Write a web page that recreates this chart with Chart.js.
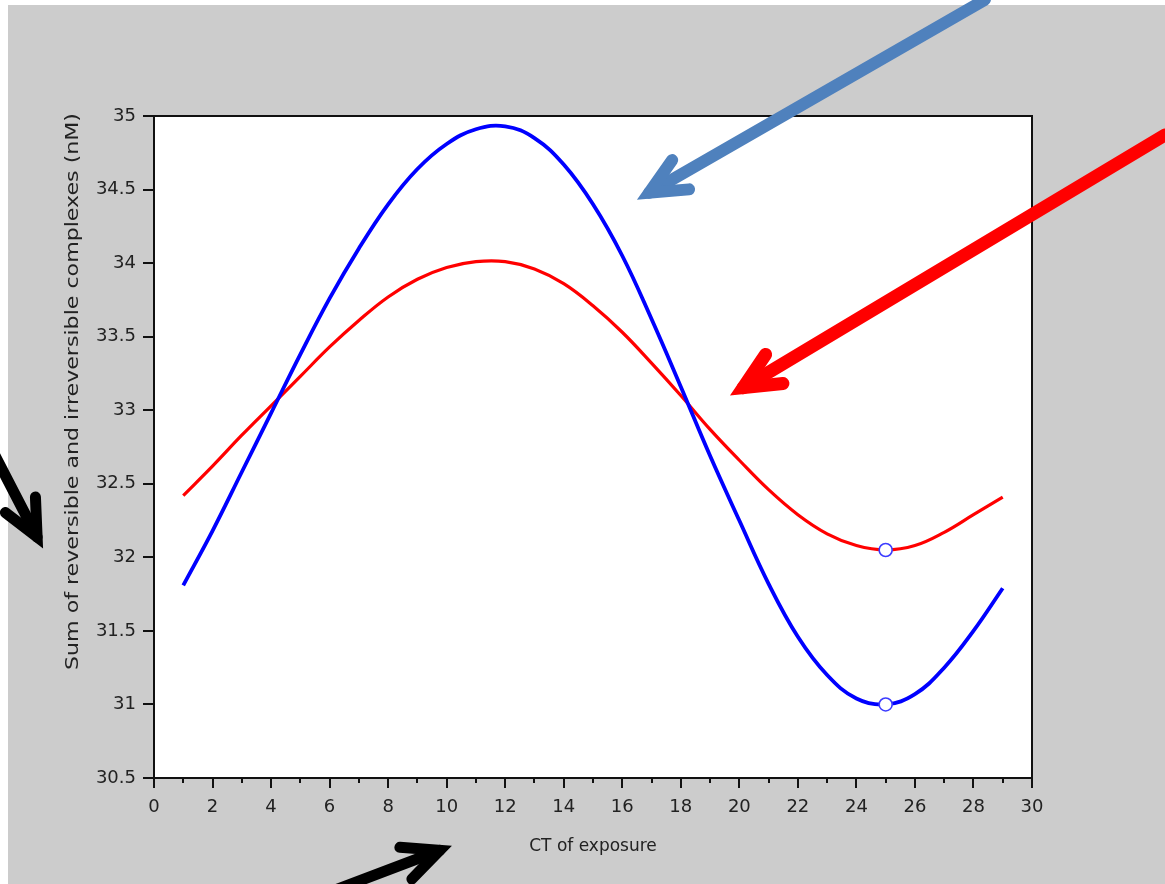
<!DOCTYPE html>
<html>
<head>
<meta charset="utf-8">
<script src="https://cdn.jsdelivr.net/npm/chart.js@4.4.1/dist/chart.umd.min.js"></script>
<style>
  html, body { margin: 0; padding: 0; background: #ffffff; }
  canvas { display: block; }
</style>
</head>
<body>
<canvas id="chart" width="1165" height="884"></canvas>
<script>
// Circadian time of exposure (hours)
const ctHours = [1, 2, 3, 4, 5, 6, 7, 8, 9, 10, 11, 12, 13, 14, 15, 16, 17, 18, 19, 20, 21, 22, 23, 24, 25, 26, 27, 28, 29];

// Sum of reversible and irreversible complexes (nM), high-amplitude profile
const sumHighAmplitude = [31.81, 32.18, 32.58, 32.98, 33.38, 33.76, 34.10, 34.40, 34.64, 34.81, 34.91, 34.93, 34.85, 34.67, 34.40, 34.05, 33.62, 33.16, 32.69, 32.25, 31.82, 31.46, 31.20, 31.04, 31.00, 31.07, 31.25, 31.50, 31.79];

// Sum of reversible and irreversible complexes (nM), low-amplitude profile
const sumLowAmplitude = [32.42, 32.62, 32.83, 33.03, 33.23, 33.43, 33.61, 33.77, 33.89, 33.97, 34.01, 34.01, 33.96, 33.86, 33.71, 33.53, 33.32, 33.10, 32.87, 32.66, 32.46, 32.29, 32.16, 32.08, 32.05, 32.08, 32.17, 32.29, 32.41];

// Highlighted minima
const minimaCT = [25, 25];
const minimaValues = [31.00, 32.05];

// Axis ticks
const xTickValues = [0, 2, 4, 6, 8, 10, 12, 14, 16, 18, 20, 22, 24, 26, 28, 30];
const xMinorTickValues = [1, 3, 5, 7, 9, 11, 13, 15, 17, 19, 21, 23, 25, 27, 29];
const yTickValues = [30.5, 31, 31.5, 32, 32.5, 33, 33.5, 34, 34.5, 35];

const xAxisTitle = 'CT of exposure';
const yAxisTitle = 'Sum of reversible and irreversible complexes (nM)';

// Pointer arrows, given in axis units (tail -> tip)
const pointerArrows = [
  { from: [28.39, 35.79], to: [16.50, 34.43], color: '#4f81bd', width: 12 },
  { from: [34.54, 34.87], to: [19.68, 33.10], color: '#ff0000', width: 13 },
  { from: [-5.95, 32.89], to: [-3.79, 32.06], color: '#000000', width: 11 },
  { from: [5.68, 29.70],  to: [10.18, 30.04], color: '#000000', width: 11 }
];

const FONT = 'DejaVu Sans';

const toPoints = (xs, ys) => xs.map((x, i) => ({ x: x, y: ys[i] }));

// Gray figure background and white plotting box
const backdrop = {
  id: 'backdrop',
  beforeDraw(chart) {
    const { ctx, chartArea: a } = chart;
    ctx.save();
    ctx.fillStyle = '#ffffff';
    ctx.fillRect(0, 0, chart.width, chart.height);
    ctx.fillStyle = '#cccccc';
    ctx.fillRect(8, 5, chart.width - 8, chart.height - 5);
    ctx.fillStyle = '#ffffff';
    ctx.fillRect(a.left, a.top, a.right - a.left, a.bottom - a.top);
    ctx.restore();
  }
};

// Box frame with outward major/minor tick marks
const frame = {
  id: 'frame',
  afterDatasetsDraw(chart) {
    const { ctx, chartArea: a, scales: { x, y } } = chart;
    ctx.save();
    ctx.strokeStyle = '#111111';
    ctx.lineWidth = 2;
    ctx.strokeRect(a.left, a.top, a.right - a.left, a.bottom - a.top);
    ctx.beginPath();
    xTickValues.forEach(v => {
      const p = Math.round(x.getPixelForValue(v));
      ctx.moveTo(p, a.bottom); ctx.lineTo(p, a.bottom + 10);
    });
    xMinorTickValues.forEach(v => {
      const p = Math.round(x.getPixelForValue(v));
      ctx.moveTo(p, a.bottom); ctx.lineTo(p, a.bottom + 5);
    });
    yTickValues.forEach(v => {
      const p = Math.round(y.getPixelForValue(v));
      ctx.moveTo(a.left, p); ctx.lineTo(a.left - 11, p);
    });
    ctx.stroke();
    ctx.restore();
  }
};

// Vertical axis title, stretched along its reading direction
const verticalTitle = {
  id: 'verticalTitle',
  afterDraw(chart) {
    const { ctx, chartArea: a } = chart;
    const span = 557;
    const cx = 78;
    const cy = a.top + 275.5;
    ctx.save();
    ctx.font = '17px "' + FONT + '"';
    ctx.fillStyle = '#222222';
    ctx.textAlign = 'center';
    ctx.textBaseline = 'alphabetic';
    const w = ctx.measureText(yAxisTitle).width;
    ctx.translate(cx, cy);
    ctx.rotate(-Math.PI / 2);
    ctx.scale(span / w, 1);
    ctx.fillText(yAxisTitle, 0, 0);
    ctx.restore();
  }
};

// Chevron-headed pointer arrows; the mitred point lands on the tip
const arrows = {
  id: 'arrows',
  afterDraw(chart) {
    const { ctx, scales: { x, y } } = chart;
    ctx.save();
    pointerArrows.forEach(ar => {
      const tx = x.getPixelForValue(ar.from[0]), ty = y.getPixelForValue(ar.from[1]);
      const px = x.getPixelForValue(ar.to[0]), py = y.getPixelForValue(ar.to[1]);
      const ang = Math.atan2(ty - py, tx - px);
      const spread = 25 * Math.PI / 180;
      const back = (ar.width / 2) / Math.sin(spread);
      const hx = px + Math.cos(ang) * back, hy = py + Math.sin(ang) * back;
      const len = 40;
      ctx.strokeStyle = ar.color;
      ctx.lineWidth = ar.width;
      ctx.lineCap = 'round';
      ctx.lineJoin = 'miter';
      ctx.miterLimit = 10;
      ctx.beginPath();
      ctx.moveTo(tx, ty);
      ctx.lineTo(hx, hy);
      ctx.stroke();
      ctx.beginPath();
      ctx.moveTo(hx + Math.cos(ang + spread) * len, hy + Math.sin(ang + spread) * len);
      ctx.lineTo(hx, hy);
      ctx.lineTo(hx + Math.cos(ang - spread) * len, hy + Math.sin(ang - spread) * len);
      ctx.stroke();
    });
    ctx.restore();
  }
};

new Chart(document.getElementById('chart'), {
  type: 'line',
  data: {
    datasets: [
      {
        type: 'scatter',
        data: toPoints(minimaCT, minimaValues),
        showLine: false,
        pointRadius: 6.5,
        pointBackgroundColor: '#ffffff',
        pointBorderColor: '#3c3cff',
        pointBorderWidth: 1.6,
        order: 0
      },
      {
        data: toPoints(ctHours, sumHighAmplitude),
        borderColor: '#0000ff',
        borderWidth: 3.8,
        pointRadius: 0,
        tension: 0.4,
        fill: false,
        order: 1
      },
      {
        data: toPoints(ctHours, sumLowAmplitude),
        borderColor: '#ff0000',
        borderWidth: 3.2,
        pointRadius: 0,
        tension: 0.4,
        fill: false,
        order: 2
      }
    ]
  },
  options: {
    responsive: false,
    devicePixelRatio: 1,
    animation: false,
    events: [],
    layout: { padding: { top: 116, right: 133, left: 0, bottom: 0 } },
    plugins: { legend: { display: false }, tooltip: { enabled: false } },
    scales: {
      x: {
        type: 'linear',
        min: 0,
        max: 30,
        afterFit(s) { s.height = 106; },
        afterBuildTicks(s) { s.ticks = xTickValues.map(v => ({ value: v })); },
        grid: { display: false, drawTicks: false },
        border: { display: false },
        ticks: {
          font: { family: FONT, size: 18 },
          color: '#222222',
          padding: 19,
          maxRotation: 0,
          autoSkip: false,
          callback: v => String(v)
        },
        title: {
          display: true,
          text: xAxisTitle,
          font: { family: FONT, size: 17 },
          color: '#222222',
          padding: { top: 0, bottom: 27 }
        }
      },
      y: {
        type: 'linear',
        min: 30.5,
        max: 35,
        afterFit(s) { s.width = 154; },
        afterBuildTicks(s) { s.ticks = yTickValues.map(v => ({ value: v })); },
        grid: { display: false, drawTicks: false },
        border: { display: false },
        ticks: {
          font: { family: FONT, size: 18 },
          color: '#222222',
          padding: 18,
          autoSkip: false,
          callback: v => String(v)
        }
      }
    }
  },
  plugins: [backdrop, frame, verticalTitle, arrows]
});
</script>
</body>
</html>
